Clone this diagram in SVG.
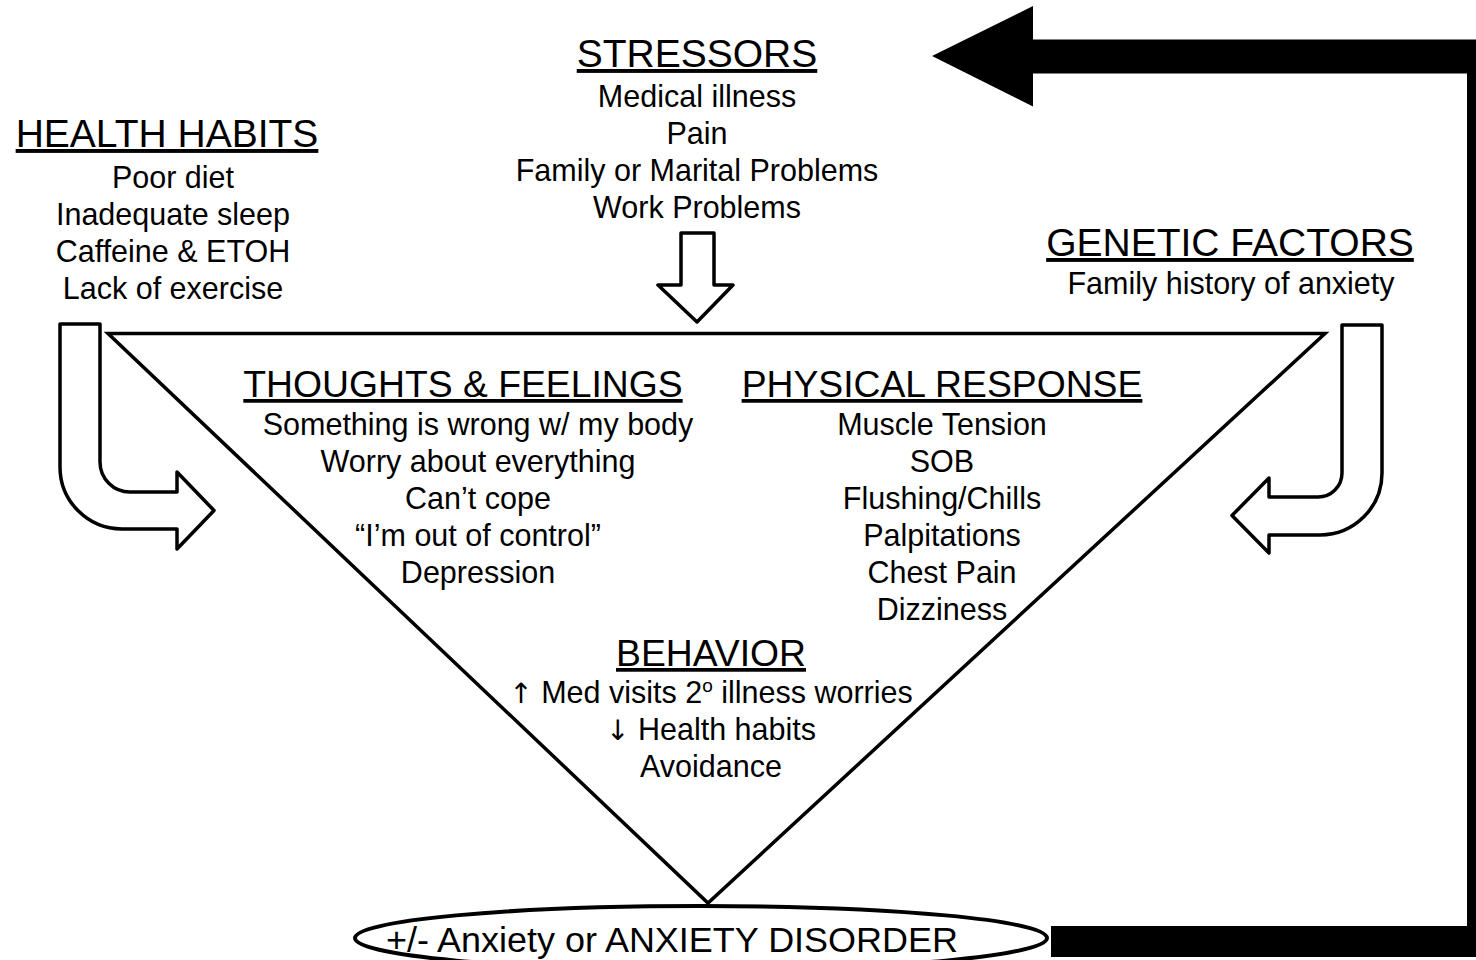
<svg xmlns="http://www.w3.org/2000/svg" width="1476" height="960" viewBox="0 0 1476 960">
<style>
text{font-family:"Liberation Sans",Arial,sans-serif;fill:#000;text-anchor:middle}
.h{font-size:39px;text-decoration:underline}
.hi{font-size:37.3px;text-decoration:underline}
.b{font-size:30.5px}
.outline{fill:#fff;stroke:#000;stroke-width:3.5;stroke-linejoin:round}
</style>
<rect width="1476" height="960" fill="#fff"/>
<g id="connectors">
<polygon id="feedback" points="932,56 1033,6 1033,39.5 1476,39.5 1476,957 1051,957 1051,926 1467,926 1467,73.5 1033,73.5 1033,106.5" fill="#000"/>
<path id="arrow-health" class="outline" d="M60 324 L100 324 L100 462 A30 30 0 0 0 130 492 L177 492 L177 472 L214 510.5 L177 549 L177 529 L122 529 A62 62 0 0 1 60 467 Z"/>
<path id="arrow-genetic" class="outline" d="M1382 325 L1342 325 L1342 473 A24 24 0 0 1 1318 497 L1269 497 L1269 478 L1232 515.5 L1269 553 L1269 535 L1320 535 A62 62 0 0 0 1382 473 Z"/>
<path id="arrow-stress" class="outline" d="M681 233 L714 233 L714 285 L733 285 L697 322 L658 285 L681 285 Z"/>
</g>
<g id="triangle">
<polygon points="108,333.5 1325,333.5 708,903" fill="none" stroke="#000" stroke-width="3.5"/>
</g>
<g id="stressors">
<text class="h" x="697" y="67">STRESSORS</text>
<text class="b" x="697" y="107">Medical illness</text>
<text class="b" x="697" y="144">Pain</text>
<text class="b" x="697" y="181">Family or Marital Problems</text>
<text class="b" x="697" y="218">Work Problems</text>
</g>
<g id="health-habits">
<text class="h" x="167" y="147">HEALTH HABITS</text>
<text class="b" x="173" y="188">Poor diet</text>
<text class="b" x="173" y="225">Inadequate sleep</text>
<text class="b" x="173" y="262">Caffeine &amp; ETOH</text>
<text class="b" x="173" y="299">Lack of exercise</text>
</g>
<g id="genetic-factors">
<text class="h" x="1230" y="256">GENETIC FACTORS</text>
<text class="b" x="1231" y="294">Family history of anxiety</text>
</g>
<g id="thoughts-feelings">
<text class="hi" x="463" y="397">THOUGHTS &amp; FEELINGS</text>
<text class="b" x="478" y="435">Something is wrong w/ my body</text>
<text class="b" x="478" y="472">Worry about everything</text>
<text class="b" x="478" y="509">Can’t cope</text>
<text class="b" x="478" y="546">“I’m out of control”</text>
<text class="b" x="478" y="583">Depression</text>
</g>
<g id="physical-response">
<text class="hi" x="942" y="397">PHYSICAL RESPONSE</text>
<text class="b" x="942" y="435">Muscle Tension</text>
<text class="b" x="942" y="472">SOB</text>
<text class="b" x="942" y="509">Flushing/Chills</text>
<text class="b" x="942" y="546">Palpitations</text>
<text class="b" x="942" y="583">Chest Pain</text>
<text class="b" x="942" y="620">Dizziness</text>
</g>
<g id="behavior">
<text class="hi" x="711" y="666">BEHAVIOR</text>
<text class="b" x="711" y="703"><tspan font-family="DejaVu Sans" font-size="28">↑</tspan> Med visits 2<tspan font-size="19" dy="-11">o</tspan><tspan dy="11"> illness worries</tspan></text>
<text class="b" x="711" y="740"><tspan font-family="DejaVu Sans" font-size="28">↓</tspan> Health habits</text>
<text class="b" x="711" y="777">Avoidance</text>
</g>
<g id="outcome">
<ellipse cx="701" cy="938" rx="346" ry="32" fill="#fff" stroke="#000" stroke-width="4"/>
<text x="672" y="952" font-size="35" textLength="572" lengthAdjust="spacingAndGlyphs">+/- Anxiety or ANXIETY DISORDER</text>
</g>
</svg>
